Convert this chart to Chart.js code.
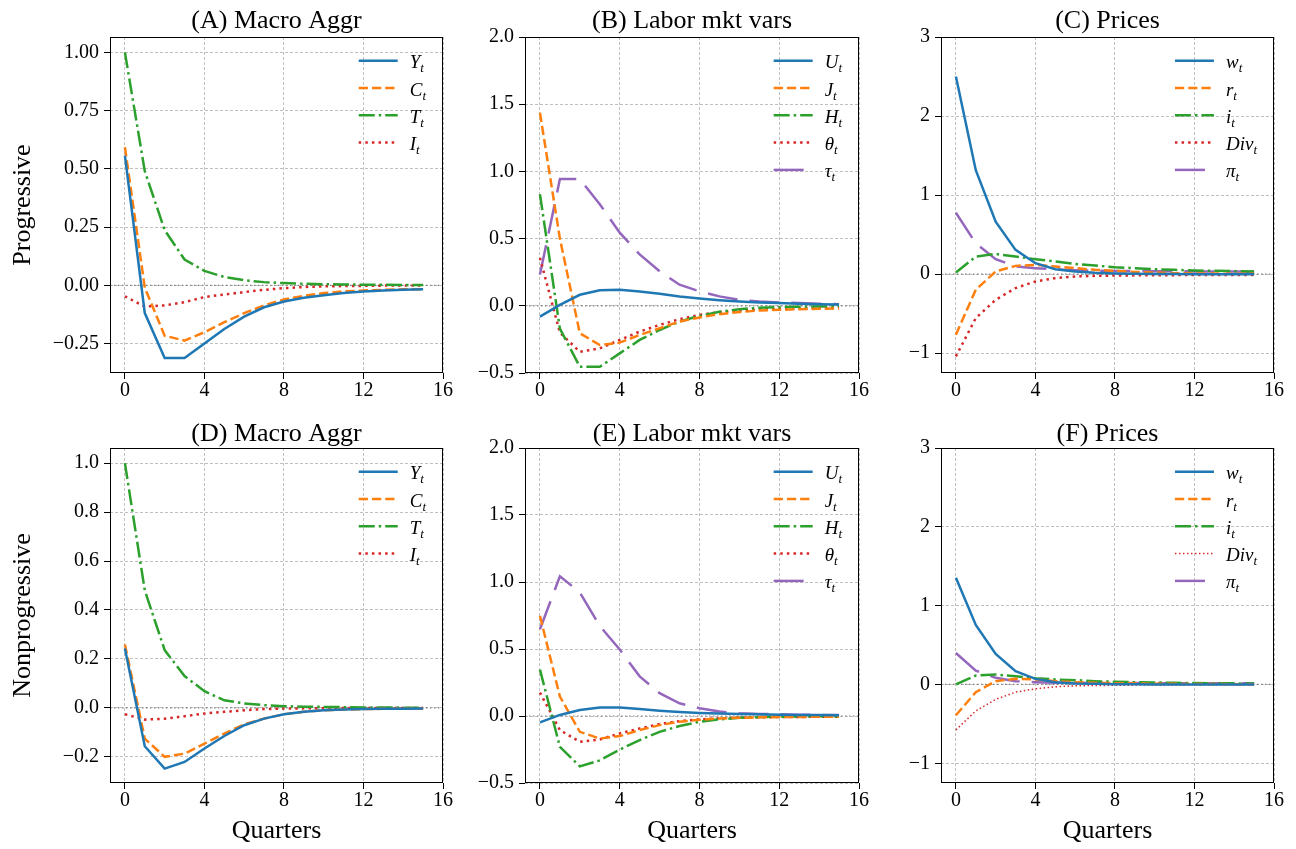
<!DOCTYPE html>
<html>
<head>
<meta charset="utf-8">
<script src="https://cdn.jsdelivr.net/npm/chart.js@4.4.0/dist/chart.umd.min.js"></script>
<style>
  body { margin: 0; background: #fff; width: 1296px; height: 849px; overflow: hidden; position: relative; }
  canvas { position: absolute; }
</style>
</head>
<body>
<canvas id="pA" width="460" height="405" style="left:0;top:0"></canvas>
<canvas id="pB" width="420" height="405" style="left:460px;top:0"></canvas>
<canvas id="pC" width="416" height="405" style="left:880px;top:0"></canvas>
<canvas id="pD" width="460" height="444" style="left:0;top:405px"></canvas>
<canvas id="pE" width="420" height="444" style="left:460px;top:405px"></canvas>
<canvas id="pF" width="416" height="444" style="left:880px;top:405px"></canvas>
<script>
// impulse responses, quarters 0..15
const quarters = [0, 1, 2, 3, 4, 5, 6, 7, 8, 9, 10, 11, 12, 13, 14, 15];
const xTicks = [0, 4, 8, 12, 16];

// progressive: macro aggregates
const progY = [0.557, -0.119, -0.312, -0.312, -0.249, -0.187, -0.134, -0.094, -0.069, -0.053, -0.042, -0.033, -0.026, -0.022, -0.019, -0.017];
const progC = [0.593, -0.010, -0.216, -0.237, -0.201, -0.158, -0.119, -0.086, -0.060, -0.045, -0.033, -0.026, -0.022, -0.019, -0.017, -0.016];
const progT = [1.000, 0.490, 0.237, 0.111, 0.062, 0.036, 0.022, 0.014, 0.010, 0.007, 0.005, 0.004, 0.003, 0.003, 0.002, 0.002];
const progI = [-0.047, -0.091, -0.086, -0.072, -0.050, -0.039, -0.029, -0.019, -0.012, -0.007, -0.004, -0.003, -0.002, -0.001, -0.001, -0.001];
// progressive: labor market
const progU = [-0.080, 0.007, 0.082, 0.115, 0.120, 0.107, 0.090, 0.070, 0.055, 0.042, 0.032, 0.025, 0.020, 0.015, 0.012, 0.010];
const progJ = [1.436, 0.500, -0.204, -0.292, -0.274, -0.217, -0.167, -0.117, -0.087, -0.062, -0.047, -0.035, -0.030, -0.025, -0.022, -0.020];
const progH = [0.830, -0.170, -0.454, -0.454, -0.354, -0.254, -0.180, -0.117, -0.075, -0.045, -0.025, -0.015, -0.010, -0.007, -0.005, -0.004];
const progTheta = [0.357, -0.200, -0.342, -0.317, -0.254, -0.192, -0.142, -0.100, -0.067, -0.047, -0.035, -0.027, -0.022, -0.020, -0.018, -0.017];
const progTau = [0.232, 0.943, 0.943, 0.756, 0.544, 0.382, 0.257, 0.157, 0.107, 0.070, 0.045, 0.032, 0.025, 0.020, 0.015, 0.012];
// progressive: prices
const progW = [2.500, 1.315, 0.664, 0.307, 0.139, 0.063, 0.034, 0.017, 0.008, 0.004, 0.002, 0.001, 0.000, 0.000, 0.000, 0.000];
const progR = [-0.765, -0.197, 0.034, 0.105, 0.118, 0.097, 0.076, 0.055, 0.042, 0.029, 0.021, 0.013, 0.008, 0.008, 0.004, 0.004];
const progNomI = [0.021, 0.223, 0.256, 0.223, 0.189, 0.160, 0.130, 0.109, 0.088, 0.076, 0.063, 0.055, 0.046, 0.042, 0.038, 0.034];
const progDiv = [-1.040, -0.555, -0.324, -0.176, -0.092, -0.050, -0.029, -0.021, -0.017, -0.015, -0.013, -0.012, -0.011, -0.010, -0.010, -0.010];
const progPi = [0.777, 0.390, 0.190, 0.097, 0.076, 0.060, 0.050, 0.045, 0.040, 0.040, 0.038, 0.036, 0.035, 0.034, 0.033, 0.032];

// nonprogressive: macro aggregates
const nonY = [0.243, -0.157, -0.248, -0.221, -0.166, -0.115, -0.071, -0.044, -0.026, -0.016, -0.010, -0.007, -0.005, -0.004, -0.004, -0.003];
const nonC = [0.259, -0.126, -0.200, -0.187, -0.146, -0.105, -0.067, -0.044, -0.026, -0.016, -0.010, -0.007, -0.005, -0.004, -0.004, -0.003];
const nonT = [1.000, 0.480, 0.236, 0.130, 0.068, 0.031, 0.018, 0.011, 0.007, 0.005, 0.004, 0.003, 0.002, 0.002, 0.001, 0.001];
const nonI = [-0.026, -0.048, -0.044, -0.034, -0.023, -0.016, -0.010, -0.005, -0.003, -0.002, -0.001, -0.001, -0.001, 0.000, 0.000, 0.000];
// nonprogressive: labor market
const nonU = [-0.048, 0.008, 0.045, 0.063, 0.063, 0.053, 0.040, 0.030, 0.023, 0.018, 0.015, 0.013, 0.010, 0.008, 0.007, 0.005];
const nonJ = [0.747, 0.145, -0.118, -0.168, -0.150, -0.105, -0.068, -0.043, -0.028, -0.018, -0.013, -0.010, -0.008, -0.007, -0.006, -0.005];
const nonH = [0.346, -0.230, -0.376, -0.331, -0.251, -0.180, -0.118, -0.075, -0.043, -0.025, -0.013, -0.008, -0.005, -0.003, -0.002, -0.002];
const nonTheta = [0.175, -0.105, -0.193, -0.175, -0.130, -0.093, -0.060, -0.038, -0.025, -0.018, -0.013, -0.010, -0.008, -0.007, -0.006, -0.005];
const nonTau = [0.647, 1.043, 0.922, 0.672, 0.496, 0.296, 0.170, 0.095, 0.058, 0.033, 0.020, 0.015, 0.013, 0.010, 0.008, 0.007];
// nonprogressive: prices
const nonW = [1.353, 0.756, 0.387, 0.168, 0.071, 0.029, 0.013, 0.008, 0.004, 0.002, 0.001, 0.000, 0.000, 0.000, 0.000, 0.000];
const nonR = [-0.391, -0.097, 0.042, 0.071, 0.063, 0.042, 0.029, 0.021, 0.017, 0.013, 0.010, 0.008, 0.006, 0.005, 0.004, 0.003];
const nonNomI = [0.000, 0.113, 0.126, 0.105, 0.080, 0.063, 0.055, 0.042, 0.034, 0.029, 0.025, 0.021, 0.018, 0.016, 0.014, 0.013];
const nonDiv = [-0.576, -0.336, -0.189, -0.097, -0.055, -0.029, -0.017, -0.013, -0.010, -0.008, -0.007, -0.006, -0.005, -0.005, -0.004, -0.004];
const nonPi = [0.399, 0.176, 0.084, 0.042, 0.029, 0.021, 0.021, 0.020, 0.019, 0.018, 0.017, 0.017, 0.016, 0.016, 0.015, 0.015];

// legend names (base_sub)
const macroNames = ['Y_t', 'C_t', 'T_t', 'I_t'];
const laborNames = ['U_t', 'J_t', 'H_t', 'θ_t', 'τ_t'];
const priceNames = ['w_t', 'r_t', 'i_t', 'Div_t', 'π_t'];

// y tick values per panel
const yTicksA = [-0.25, 0, 0.25, 0.5, 0.75, 1.0];
const yTicksB = [-0.5, 0, 0.5, 1.0, 1.5, 2.0];
const yTicksC = [-1, 0, 1, 2, 3];
const yTicksD = [-0.2, 0, 0.2, 0.4, 0.6, 0.8, 1.0];

const FONT = '"Liberation Serif", "DejaVu Serif", serif';
const COLORS = ['#1f77b4', '#ff7f0e', '#2ca02c', '#d62728', '#9467bd'];
const DASHES = [[], [9.25, 4], [16, 4, 2.5, 4], [2.5, 4.1], [30, 12]];

function fmt(v, dec) {
    const s = Math.abs(v).toFixed(dec);
    return (v < -1e-9 ? '\u2212' : '') + s;
}

const panelPlugin = {
    id: 'panel',
    beforeDatasetsDraw(chart, args, opts) {
        const { ctx, chartArea: a } = chart;
        const y0 = chart.scales.y.getPixelForValue(0);
        ctx.save();
        ctx.strokeStyle = '#808080';
        ctx.lineWidth = 1.2;
        ctx.setLineDash([1.5, 2.5]);
        ctx.beginPath();
        ctx.moveTo(a.left, y0);
        ctx.lineTo(a.right, y0);
        ctx.stroke();
        ctx.restore();
    },
    afterDraw(chart, args, opts) {
        const { ctx, chartArea: a } = chart;
        ctx.save();
        // frame
        ctx.strokeStyle = '#000';
        ctx.lineWidth = 1;
        ctx.setLineDash([]);
        ctx.strokeRect(Math.round(a.left) + 0.5, Math.round(a.top) + 0.5,
            Math.round(a.right) - Math.round(a.left) - 1, Math.round(a.bottom) - Math.round(a.top) - 1);
        // title
        ctx.fillStyle = '#000';
        ctx.font = '26px ' + FONT;
        ctx.textAlign = 'center';
        ctx.textBaseline = 'alphabetic';
        ctx.fillText(opts.title, (a.left + a.right) / 2, a.top - opts.titleGap);
        // legend
        const mainFont = 'italic 19px ' + FONT;
        const subFont = 'italic 13px ' + FONT;
        const parts = chart.data.datasets.map(ds => ds.label.split('_'));
        let maxW = 0;
        parts.forEach(p => {
            ctx.font = mainFont;
            let w = ctx.measureText(p[0]).width;
            ctx.font = subFont;
            w += ctx.measureText(p[1]).width;
            maxW = Math.max(maxW, w);
        });
        const tx = a.right - 17 - maxW;
        ctx.textAlign = 'left';
        chart.data.datasets.forEach((ds, i) => {
            const ly = a.top + 23.7 + 27.3 * i;
            ctx.strokeStyle = ds.borderColor;
            ctx.lineWidth = ds.borderWidth;
            ctx.setLineDash(ds.borderDash);
            ctx.lineCap = 'butt';
            ctx.beginPath();
            ctx.moveTo(tx - 51, ly);
            ctx.lineTo(tx - 12, ly);
            ctx.stroke();
            ctx.fillStyle = '#000';
            ctx.font = mainFont;
            ctx.fillText(parts[i][0], tx, ly + 7.5);
            const mw = ctx.measureText(parts[i][0]).width;
            ctx.font = subFont;
            ctx.fillText(parts[i][1], tx + mw, ly + 11.5);
        });
        ctx.restore();
    }
};

function makeSeries(names, series, thinDotted) {
    return series.map((vals, i) => ({
        label: names[i],
        data: quarters.map((q, k) => ({ x: q, y: vals[k] })),
        borderColor: COLORS[i],
        borderWidth: (thinDotted && i === 3) ? 1.5 : 2.5,
        borderDash: (thinDotted && i === 3) ? [1.5, 2.5] : DASHES[i],
        pointRadius: 0,
        tension: 0,
        fill: false
    }));
}

function makeChart(id, p) {
    const tickFont = { family: FONT, size: 20, lineHeight: 1.0 };
    const labelFont = { family: FONT, size: 26 };
    new Chart(document.getElementById(id), {
        type: 'line',
        data: { datasets: makeSeries(p.names, p.series, p.thinDotted) },
        plugins: [panelPlugin],
        options: {
            responsive: false,
            animation: false,
            layout: { padding: { top: p.padTop, right: p.padRight, left: 0, bottom: 0 } },
            plugins: {
                legend: { display: false },
                tooltip: { enabled: false },
                panel: { title: p.title, titleGap: p.titleGap }
            },
            scales: {
                x: {
                    type: 'linear',
                    min: -0.75,
                    max: 16,
                    afterBuildTicks: s => { s.ticks = xTicks.map(v => ({ value: v })); },
                    afterFit: s => { s.height = p.xHeight; s.paddingLeft = 0; s.paddingRight = 0; },
                    grid: { color: '#b0b0b0', lineWidth: 0.8, tickColor: '#000', tickLength: 6, tickWidth: 1 },
                    border: { display: false, dash: [3, 2] },
                    ticks: { color: '#000', font: tickFont, padding: 2, maxRotation: 0, autoSkip: false,
                        callback: v => String(v) },
                    title: { display: !!p.xlabel, text: p.xlabel, color: '#000', font: labelFont,
                        padding: { top: 0, bottom: 2 } }
                },
                y: {
                    type: 'linear',
                    min: p.yMin,
                    max: p.yMax,
                    afterBuildTicks: s => { s.ticks = p.yTicks.map(v => ({ value: v })); },
                    afterFit: s => { s.width = p.yWidth; s.paddingTop = 0; s.paddingBottom = 0; },
                    grid: { color: '#b0b0b0', lineWidth: 0.8, tickColor: '#000', tickLength: 6, tickWidth: 1 },
                    border: { display: false, dash: [3, 2] },
                    ticks: { color: '#000', font: tickFont, padding: 5, autoSkip: false,
                        callback: v => fmt(v, p.dec) },
                    title: { display: !!p.ylabel, text: p.ylabel, color: '#000', font: labelFont,
                        padding: { top: 8, bottom: 0 } }
                }
            }
        }
    });
}

const topRow = { padTop: 37, xHeight: 32, titleGap: 9, xlabel: '' };
const botRow = { padTop: 43, xHeight: 66, titleGap: 6.6, xlabel: 'Quarters' };

makeChart('pA', Object.assign({}, topRow, {
    title: '(A) Macro Aggr', ylabel: 'Progressive', names: macroNames,
    series: [progY, progC, progT, progI], yMin: -0.376, yMax: 1.066, yTicks: yTicksA, dec: 2,
    yWidth: 110, padRight: 17
}));
makeChart('pB', Object.assign({}, topRow, {
    title: '(B) Labor mkt vars', ylabel: '', names: laborNames,
    series: [progU, progJ, progH, progTheta, progTau], yMin: -0.5, yMax: 2.0, yTicks: yTicksB, dec: 1,
    yWidth: 65, padRight: 21
}));
makeChart('pC', Object.assign({}, topRow, {
    title: '(C) Prices', ylabel: '', names: priceNames,
    series: [progW, progR, progNomI, progDiv, progPi], yMin: -1.25, yMax: 3, yTicks: yTicksC, dec: 0,
    yWidth: 61, padRight: 22
}));
makeChart('pD', Object.assign({}, botRow, {
    title: '(D) Macro Aggr', ylabel: 'Nonprogressive', names: macroNames,
    series: [nonY, nonC, nonT, nonI], yMin: -0.307, yMax: 1.062, yTicks: yTicksD, dec: 1,
    yWidth: 110, padRight: 17
}));
makeChart('pE', Object.assign({}, botRow, {
    title: '(E) Labor mkt vars', ylabel: '', names: laborNames,
    series: [nonU, nonJ, nonH, nonTheta, nonTau], yMin: -0.5, yMax: 2.0, yTicks: yTicksB, dec: 1,
    yWidth: 65, padRight: 21
}));
makeChart('pF', Object.assign({}, botRow, {
    title: '(F) Prices', ylabel: '', names: priceNames,
    series: [nonW, nonR, nonNomI, nonDiv, nonPi], yMin: -1.25, yMax: 3, yTicks: yTicksC, dec: 0,
    yWidth: 61, padRight: 22, thinDotted: true
}));
</script>
</body>
</html>
